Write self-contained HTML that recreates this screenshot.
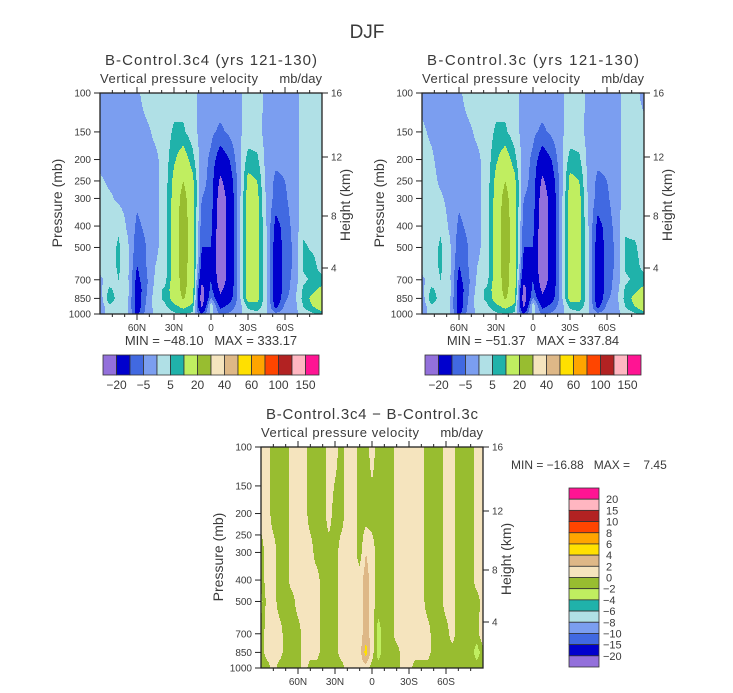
<!DOCTYPE html>
<html><head><meta charset="utf-8"><style>
html,body{margin:0;padding:0;background:#fff;}
svg{display:block;font-family:"Liberation Sans",sans-serif;}
text{fill:#3a3a3a;white-space:pre;}
</style></head><body>
<svg id="svg" width="733" height="693" viewBox="0 0 733 693" xmlns="http://www.w3.org/2000/svg">
<text x="367" y="38" font-size="19" text-anchor="middle">DJF</text>
</svg>
<script>
// ---------- data ----------
const lats1 = [90,82.5,75,67.5,60,52.5,45,37.5,30,22.5,15,7.5,0,-7.5,-15,-22.5,-30,-37.5,-45,-52.5,-60,-67.5,-75,-82.5,-90];
const levs1 = [100,150,200,250,300,400,500,600,700,775,850,925,1000];
const omegaA = [
[-2,-2,-2,-2,-1, 2, 2, 3, 2, 2, 1,-1,-2,-2,-2,-1, 2, 2,-1,-2,-2,-2, 2, 2, 2],
[-2,-2,-2,-2,-2,-1, 1, 2, 6, 6, 2,-2,-4,-6,-4,-1, 2, 2,-2,-3,-3,-2, 2, 2, 2],
[-2,-2,-2,-2,-2,-2,-1, 2, 9,14, 7,-3,-6,-14,-10,-2, 7, 6,-2,-4,-4,-2, 2, 2, 2],
[ 1,-1,-2,-2,-3,-2,-1, 2,12,20,12,-4,-6,-22,-14,-3,12,10,-2,-6,-5,-2, 2, 2, 2],
[ 2, 1,-1,-2,-4,-3,-1, 2,13,24,13,-5,-6,-26,-16,-3,13,12,-1,-7,-6,-2, 2, 2, 2],
[ 2, 2, 4,-1,-6,-4,-1, 2,14,26,14,-8,-8,-28,-16,-3,14,12, 0,-12,-8,-3, 3, 3, 2],
[ 2, 2, 6, 1,-8,-5,-1, 2,14,26,14,-10,-10,-28,-16,-3,14,12, 1,-14,-8,-4, 6, 4, 2],
[ 2, 2, 6, 1,-10,-5, 0, 2,14,25,14,-12,-10,-28,-16,-3,14,12, 1,-15,-8,-4, 6, 7, 2],
[-1, 2, 5, 1,-12,-6, 1, 3,14,24,14,-18,-10,-26,-16,-3,14,12, 1,-15,-8,-3, 4, 6, 7],
[-2, 6, 3, 2,-14,-6, 2, 6,14,23,14,-24,-8,-22,-15,-3,14,12, 1,-15,-8,-2, 6, 8,12],
[-3, 8, 3, 1,-14,-5, 3, 6,13,21,13,-26,-4,-18,-13,-3,13,12, 1,-15,-6,-2, 7,12,18],
[-4, 4, 2, 1,-14,-4, 2, 4, 8,12, 8,-22, 4,-12,-8,-3, 6, 8, 1,-12,-4,-2, 5,10,14],
[-3, 2, 1, 0,-12,-3, 1, 2, 4, 5, 4,-10, 2,-6,-4,-2, 3, 3, 0,-4,-2,-2, 2, 4, 8]
];
const omegaB = [
[-2,-2,-2,-2,-1, 2, 2, 3, 2, 2, 1,-1,-2,-2,-2,-1, 2, 2,-1,-2,-2,-2, 2, 2,-2],
[ 1,-1,-2,-2,-2,-1, 1, 2, 6, 6, 2,-2,-4,-6,-4,-1, 2, 2,-2,-3,-3,-2, 2, 2, 2],
[ 2, 1,-2,-2,-2,-2,-1, 2, 9,14, 7,-3,-6,-14,-10,-2, 7, 6,-2,-4,-4,-2, 2, 2, 2],
[ 2, 2,-1,-2,-3,-2,-1, 2,12,20,12,-4,-6,-22,-14,-3,12,10,-2,-6,-5,-2, 2, 2, 2],
[ 2, 2, 1,-2,-4,-3,-1, 2,13,24,13,-5,-6,-26,-16,-3,13,12,-1,-7,-6,-2, 2, 2, 2],
[ 2, 2, 4,-1,-6,-4,-1, 2,14,26,14,-8,-8,-28,-16,-3,14,12, 0,-12,-8,-3, 4, 3, 2],
[ 2, 2, 6, 1,-8,-5,-1, 2,14,26,14,-10,-10,-28,-16,-3,14,12, 1,-14,-8,-4, 6, 6, 2],
[ 2, 2, 6, 1,-10,-5, 0, 2,14,25,14,-12,-10,-28,-16,-3,14,12, 1,-15,-8,-4, 6, 7, 3],
[-1, 2, 5, 1,-12,-6, 1, 3,14,24,14,-18,-10,-26,-16,-3,14,12, 1,-15,-8,-3, 4, 6, 7],
[-2, 6, 3, 2,-14,-6, 2, 6,14,23,14,-24,-8,-22,-15,-3,14,12, 1,-15,-8,-2, 6, 8,12],
[-3, 8, 3, 1,-14,-5, 3, 6,13,21,13,-26,-4,-18,-13,-3,13,12, 1,-15,-6,-2, 7,12,18],
[-4, 4, 2, 1,-14,-4, 2, 4, 8,12, 8,-22, 4,-12,-8,-3, 6, 8, 1,-12,-4,-2, 5,10,14],
[-3, 2, 1, 0,-12,-3, 1, 2, 4, 5, 4,-10, 2,-6,-4,-2, 3, 3, 0,-4,-2,-2, 2, 4, 8]
];
const lats3 = [90,85,80,75,70,65,60,55,50,45,40,35,30,25,20,15,10,5,0,-5,-10,-15,-20,-25,-30,-35,-40,-45,-50,-55,-60,-65,-70,-75,-80,-85,-90];
const levs3 = [100,200,300,400,500,700,850,1000];
const omegaDiff = [
[ 1, 1,-1,-1,-1, 1, 1, 1,-1,-1,-1, 1, 1,-1, 1, 1,-1,-1, 1,-1,-1,-1, 1, 1, 1, 1, 1,-1,-1,-1, 1, 1,-1,-1,-1, 1, 1],
[ 1, 1,-1,-1,-1, 1, 1, 1,-1,-1,-1, 1,-1,-1, 1, 1,-1,-1,-1,-1,-1,-1, 1, 1, 1, 1, 1,-1,-1,-1, 1, 1,-1,-1,-1, 1, 1],
[-1, 1, 1,-1,-1, 1, 1, 1, 1,-1,-1,-1,-1, 1, 1, 1,-1, 2, 1,-1,-1,-1, 1, 1, 1, 1, 1,-1,-1,-1, 1, 1,-1,-1,-1, 1, 1],
[-1, 1, 1,-1,-1, 1, 1, 1, 1, 1,-1,-1,-1, 1, 1, 1, 1, 3, 1,-1,-1,-1, 1, 1, 1, 1, 1,-1,-1,-1, 1, 1,-1,-1,-1, 1, 1],
[-3, 1, 1,-1,-1,-1, 1, 1, 1, 1,-1,-1,-1, 1, 1, 1, 1, 3, 1,-1,-1,-1, 1, 1, 1, 1, 1,-1,-1,-1, 1, 1,-1,-1,-1,-1, 1],
[-1, 1, 1, 1,-1,-1,-1, 1, 1, 1,-1,-1,-1, 1, 1, 1, 1, 3, 1,-3,-1,-1, 1, 1, 1, 1, 1, 1,-1,-1,-1, 1,-1,-1,-1,-1, 2],
[-1, 1, 1, 1,-1,-1,-1, 1, 1, 1,-1,-1,-1, 1, 1, 1, 1, 5, 1,-3,-1,-1,-1, 1, 1, 1, 1, 1,-1,-1,-1,-1,-1,-1,-1,-3,-1],
[-1,-1, 1,-1,-1,-1,-1, 1,-1,-1,-1,-1,-1,-1, 1, 1, 1, 1,-1,-1,-1,-1,-1, 1, 1,-1,-1,-1,-1,-1,-1,-1,-1,-1,-1,-1,-1]
];
const levelsTop = [-20,-10,-5,0,5,10,20,30,40,50,60,80,100,120,150];
const levelsDiff = [-20,-15,-10,-8,-6,-4,-2,0,2,4,6,8,10,15,20];
const colors = ["#9370db","#0000cd","#4169e1","#7b9ef0","#b0e0e6","#20b2aa","#c0ee60","#98bd30","#f5e4be","#deb887","#ffe000","#ffa500","#ff4500","#b22222","#ffb6c1","#ff1493"];
const topLabels = ["-20","-5","5","20","40","60","100","150"];
const diffLabels = ["20","15","10","8","6","4","2","0","\u22122","\u22124","\u22126","\u22128","\u221210","\u221215","\u221220"];
const latTicks = [60,30,0,-30,-60];
const latTickLabels = ["60N","30N","0","30S","60S"];
const presTicks = [100,150,200,250,300,400,500,700,850,1000];
const htTicks = [16,12,8,4];

// ---------- helpers ----------
const NS="http://www.w3.org/2000/svg";
const svg=document.getElementById('svg');
function mk(tag,attrs,parent){const e=document.createElementNS(NS,tag);for(const k in attrs)e.setAttribute(k,attrs[k]);(parent||svg).appendChild(e);return e;}
function txt(x,y,s,size,anchor,parent){const t=mk('text',{x:x,y:y,'font-size':size,'text-anchor':anchor||'middle'},parent);t.textContent=s;return t;}
function interp(arr,v){
  const asc=arr[arr.length-1]>arr[0];
  for(let i=0;i<arr.length-1;i++){const a=arr[i],b=arr[i+1];
    if(asc?(v>=a&&v<=b):(v<=a&&v>=b)) return i+(v-a)/(b-a);}
  return v<(asc?arr[0]:arr[arr.length-1])?(asc?0:arr.length-1):(asc?arr.length-1:0);
}
function classify(v,levels){let c=0;while(c<levels.length&&v>=levels[c])c++;return c;}
const htY={16:93,12:157,8:216,4:268};

function panel(name,X,Y,lats,levs,grid,levels,title,minmax){
  const W=222,H=221;
  const g=mk('g',{});
  
  
  const xs=lat=>X+(90-lat)/180*W;
  const ys=p=>Y+(Math.log10(p)-2)*H;
  const logLev=levs.map(p=>Math.log10(p));
  const field=mk('g',{'shape-rendering':'crispEdges'},g);
  
  
  const step=1;
  for(let py=0;py<H;py+=step){
    const lp=2+(py+step/2)/H;
    const fr=interp(logLev,lp);const r0=Math.min(Math.floor(fr),levs.length-2);const tr=fr-r0;
    let runStart=0,runC=-1;
    for(let px=0;px<=W;px+=step){
      let c=-2;
      if(px<W){
        const lat=90-(px+step/2)/W*180;
        const fc=interp(lats,lat);const c0=Math.min(Math.floor(fc),lats.length-2);const tc=fc-c0;
        const v=(grid[r0][c0]*(1-tc)+grid[r0][c0+1]*tc)*(1-tr)+(grid[r0+1][c0]*(1-tc)+grid[r0+1][c0+1]*tc)*tr;
        c=classify(v,levels);
      }
      if(c!==runC){
        if(runC>=0){const rc=mk('rect',{x:X+runStart,y:Y+py,width:Math.min(px,W)-runStart,height:step,fill:colors[runC]},field);
          
          }
        runStart=px;runC=c;
      }
    }
  }
  const frame=mk('rect',{x:X,y:Y,width:W,height:H,fill:'none',stroke:'#222','stroke-width':1.3},g);
  
  
  for(let l=-80;l<=80;l+=10){
    const major=latTicks.indexOf(l)>=0;const x=xs(l);const len=major?6:3;
    mk('line',{x1:x,x2:x,y1:Y+H,y2:Y+H+len,stroke:'#222','stroke-width':1},g);
    mk('line',{x1:x,x2:x,y1:Y,y2:Y-len,stroke:'#222','stroke-width':1},g);
  }
  latTicks.forEach((l,i)=>{const t=txt(xs(l),Y+H+17,latTickLabels[i],10,'middle',g);
    
    });
  presTicks.forEach(p=>{const y=ys(p);mk('line',{x1:X-6,x2:X,y1:y,y2:y,stroke:'#222','stroke-width':1},g);
    const t=txt(X-9,y+3.5,String(p),10,'end',g);
    
    });
  htTicks.forEach(h=>{const y=htY[h]-93+Y;mk('line',{x1:X+W,x2:X+W+6,y1:y,y2:y,stroke:'#222','stroke-width':1},g);
    const t=txt(X+W+9,y+3.5,String(h),10,'start',g);
    
    });
  const yt=txt(0,0,'Pressure (mb)',14,'middle',g);
  yt.setAttribute('transform',`translate(${X-38},${Y+110}) rotate(-90)`);
  
  
  const ht=txt(0,0,'Height (km)',14,'middle',g);
  ht.setAttribute('transform',`translate(${X+W+28},${Y+112}) rotate(-90)`);
  
  
  const tt=txt(X+W/2,Y-28,title,15,'middle',g);
  tt.setAttribute('textLength',212);
  
  
  const s1=txt(X,Y-10,'Vertical pressure velocity',13,'start',g);
  s1.setAttribute('textLength',158);
  
  
  const s2=txt(X+W,Y-10,'mb/day',13,'end',g);
  
  
  if(minmax){const m=txt(X+W/2,Y+H+31,minmax,13,'middle',g);
    
    }
  return g;
}

function hbar(X,Y){
  const g=mk('g',{});
  
  
  const bw=216/16;
  colors.forEach((c,i)=>{const r=mk('rect',{x:X+i*bw,y:Y,width:bw,height:20,fill:c,stroke:'#333','stroke-width':0.8},g);
    
    });
  topLabels.forEach((s,i)=>{const t=txt(X+(2*i+1)*bw,Y+34,s.replace('-','\u2212'),12,'middle',g);
    
    });
}

panel('panel-control-3c4',100,93,lats1,levs1,omegaA,levelsTop,'B-Control.3c4 (yrs 121-130)','MIN = \u221248.10   MAX = 333.17');
hbar(103,355);
panel('panel-control-3c',422,93,lats1,levs1,omegaB,levelsTop,'B-Control.3c (yrs 121-130)','MIN = \u221251.37   MAX = 337.84');
hbar(425,355);
panel('panel-difference',261,447,lats3,levs3,omegaDiff,levelsDiff,'B-Control.3c4 \u2212 B-Control.3c',null);
const mm=txt(511,469,'MIN = \u221216.88   MAX =    7.45',12,'start');


{
  const g=mk('g',{});
  
  
  const X=569,Y=488,bh=179/16;
  colors.slice().reverse().forEach((c,i)=>{const r=mk('rect',{x:X,y:Y+i*bh,width:30,height:bh,fill:c,stroke:'#333','stroke-width':0.8},g);
    
    });
  diffLabels.forEach((s,i)=>{const t=txt(s.charAt(0)==='\u2212'?603:606,Y+(i+1)*bh+4,s,11,'start',g);
    
    });
}
</script>
</body></html>
